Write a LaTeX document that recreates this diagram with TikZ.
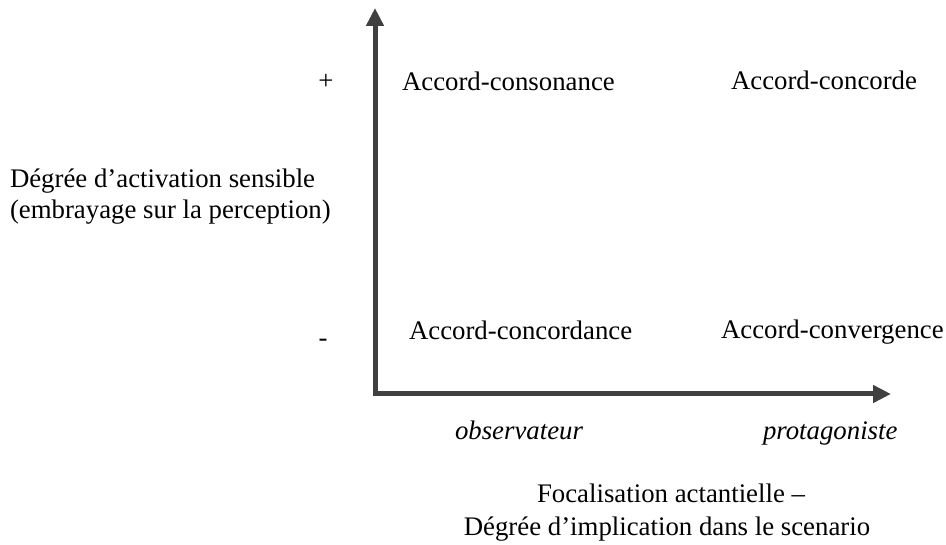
\documentclass[tikz,border=0pt]{standalone}
\usepackage{fontspec}
\setmainfont{Liberation Serif}
\usetikzlibrary{arrows.meta}
\definecolor{axisgray}{HTML}{404040}
\begin{document}
\begin{tikzpicture}[x=1pt,y=-1pt,
  lbl/.style={inner sep=0pt,outer sep=0pt,font=\fontsize{26.8}{31.5}\selectfont},
  itlbl/.style={lbl,font=\fontsize{26.8}{31.5}\selectfont\itshape},
  axisline/.style={draw=axisgray,line width=5pt,line join=miter,
    arrows={Triangle[length=18pt,width=17pt,fill=axisgray]-Triangle[length=18pt,width=17pt,fill=axisgray]}}]
  \useasboundingbox (0,0) rectangle (946,545);
  % axes
  \coordinate (ytop) at (375,8);
  \coordinate (origin) at (375,394);
  \coordinate (xend) at (891,394);
  \draw[axisline] (ytop) -- (origin) -- (xend);
  % vertical scale marks
  \node[lbl,anchor=base] (plus) at (326,90) {+};
  \node[lbl,anchor=base] (minus) at (323,347) {-};
  % quadrants
  \node[lbl,anchor=base west] (consonance) at (402,91) {Accord-consonance};
  \node[lbl,anchor=base west] (concorde) at (731,90) {Accord-concorde};
  \node[lbl,anchor=base west] (concordance) at (409,340) {Accord-concordance};
  \node[lbl,anchor=base west] (convergence) at (721,339) {Accord-convergence};
  % horizontal scale
  \node[itlbl,anchor=base west] (observ) at (455,440) {observateur};
  \node[itlbl,anchor=base west] (protag) at (763,439) {protagoniste};
  % axis titles
  \node[lbl,anchor=base west] (ytitleA) at (10,188) {Dégrée d’activation sensible};
  \node[lbl,anchor=base west] (ytitleB) at (10,219) {(embrayage sur la perception)};
  \node[lbl,anchor=base] (xtitleA) at (671,503) {Focalisation actantielle –};
  \node[lbl,anchor=base] (xtitleB) at (667,535) {Dégrée d’implication dans le scenario};
\end{tikzpicture}
\end{document}
